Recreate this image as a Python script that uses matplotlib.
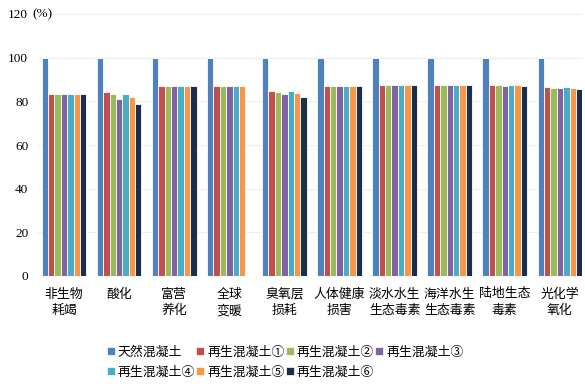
import numpy as np
import matplotlib
matplotlib.use("Agg")
import matplotlib.pyplot as plt
from matplotlib.lines import Line2D

plt.rcParams['font.family'] = ['Liberation Serif', 'Noto Sans CJK SC', 'DejaVu Sans']

categories = ["非生物\n耗竭", "酸化", "富营\n养化", "全球\n变暖", "臭氧层\n损耗",
              "人体健康\n损害", "淡水水生\n生态毒素", "海洋水生\n生态毒素", "陆地生态\n毒素", "光化学\n氧化"]
series_names = ["天然混凝土", "再生混凝土①", "再生混凝土②", "再生混凝土③",
                "再生混凝土④", "再生混凝土⑤", "再生混凝土⑥"]
natural = [100, 100, 100, 100, 100, 100, 100, 100, 100, 100]
rc1 = [83.5, 84.1, 87.2, 86.8, 84.8, 87.1, 87.5, 87.5, 87.4, 86.5]
rc2 = [83.5, 83.2, 87.2, 87.1, 84.2, 87.1, 87.5, 87.5, 87.3, 86.3]
rc3 = [83.5, 81.1, 87.2, 87.1, 83.2, 87.1, 87.5, 87.5, 87.1, 85.9]
rc4 = [83.5, 83.3, 87.2, 86.8, 84.7, 87.1, 87.5, 87.5, 87.3, 86.4]
rc5 = [83.5, 82.1, 87.2, 87.0, 83.8, 87.1, 87.5, 87.5, 87.3, 86.2]
rc6 = [83.5, 78.8, 87.2, np.nan, 82.0, 87.1, 87.5, 87.5, 87.0, 85.6]
y_ticks = [0, 20, 40, 60, 80, 100, 120]

colors = ["#4F81BD", "#C0504D", "#9BBB59", "#8064A2", "#4BACC6", "#F79646", "#1B2E4B"]
series = [natural, rc1, rc2, rc3, rc4, rc5, rc6]

fig = plt.figure(figsize=(5.85, 3.91), dpi=100)
ax = fig.add_axes([38/585, 1 - 276/391, (582-38)/585, (276-14)/391])

x = np.arange(len(categories))
w = 0.116
for i, (vals, c) in enumerate(zip(series, colors)):
    ax.bar(x + (i - 3) * w, vals, width=w, color=c, edgecolor='white',
           linewidth=0.6, zorder=3)

ax.set_xlim(-0.472, 9.4)
ax.set_ylim(0, 120)
ax.set_yticks(y_ticks)
ax.set_yticklabels([str(v) for v in y_ticks], fontsize=9.5)
ax.grid(axis='y', color='#eeeeee', linewidth=0.8, zorder=0)
for s in ax.spines.values():
    s.set_visible(False)
ax.tick_params(axis='y', length=0, pad=7)
ax.tick_params(axis='x', length=0, pad=9)
ax.set_xticks(x)
ax.set_xticklabels(categories, fontsize=9.3, linespacing=1.45)
fig.text(32/585, 1 - 14/391, "(%)", fontsize=9.5, va='center', ha='left')

handles = [Line2D([], [], marker='s', linestyle='none', markersize=5.5,
                  markerfacecolor=c, markeredgecolor='white', markeredgewidth=0.5)
           for c in colors]
order = [0, 4, 1, 5, 2, 6, 3]
fig.legend([handles[i] for i in order], [series_names[i] for i in order],
           ncol=4, loc='upper left', bbox_to_anchor=(101/585, 1 - 340/391),
           frameon=False, fontsize=9.3, handlelength=0.5, handletextpad=0.3,
           columnspacing=0.15, labelspacing=0.55, borderpad=0)

fig.savefig("out.png", dpi=100)
